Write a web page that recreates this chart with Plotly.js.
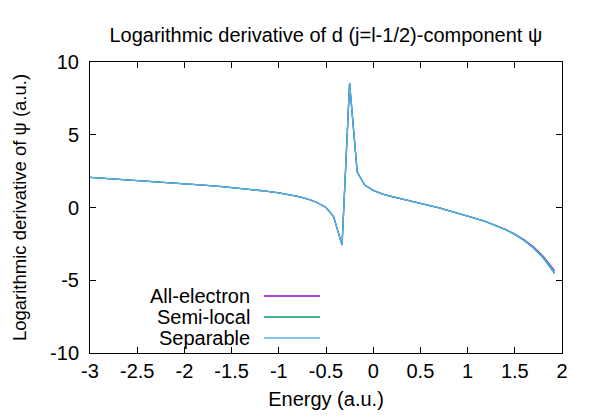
<!DOCTYPE html>
<html>
<head>
<meta charset="utf-8">
<script src="https://cdn.plot.ly/plotly-3.0.1.min.js"></script>
<style>html,body{margin:0;padding:0;background:#fff}#chart{width:600px;height:420px}</style>
</head>
<body>
<div id="chart"></div>
<script>
const energy = [-3, -2.8, -2.6, -2.4, -2.2, -2.0, -1.8, -1.6, -1.4, -1.2, -1.0, -0.9, -0.8, -0.7, -0.6, -0.5, -0.46, -0.42, -0.33, -0.25, -0.17, -0.09, 0, 0.1, 0.2, 0.3, 0.4, 0.5, 0.6, 0.7, 0.8, 0.9, 1.0, 1.1, 1.2, 1.3, 1.4, 1.5, 1.6, 1.7, 1.8, 1.9, 1.92];
const allElectron = [2.07, 1.99, 1.91, 1.83, 1.74, 1.64, 1.54, 1.43, 1.31, 1.17, 1.00, 0.90, 0.76, 0.59, 0.36, 0.00, -0.29, -0.62, -2.58, 8.55, 2.45, 1.55, 1.18, 0.92, 0.74, 0.59, 0.45, 0.30, 0.14, -0.03, -0.21, -0.39, -0.58, -0.78, -0.99, -1.22, -1.50, -1.82, -2.22, -2.72, -3.34, -4.16, -4.36];
const semiLocal = [2.07, 1.99, 1.91, 1.83, 1.74, 1.64, 1.54, 1.43, 1.31, 1.17, 1.00, 0.90, 0.76, 0.59, 0.36, 0.00, -0.29, -0.62, -2.58, 8.55, 2.45, 1.55, 1.18, 0.92, 0.74, 0.59, 0.45, 0.30, 0.14, -0.03, -0.21, -0.39, -0.58, -0.78, -0.99, -1.23, -1.52, -1.86, -2.28, -2.80, -3.46, -4.33, -4.54];
const separable = [2.07, 1.99, 1.91, 1.83, 1.74, 1.64, 1.54, 1.43, 1.31, 1.17, 1.00, 0.90, 0.76, 0.59, 0.36, 0.00, -0.29, -0.62, -2.58, 8.55, 2.45, 1.55, 1.18, 0.92, 0.74, 0.59, 0.45, 0.30, 0.14, -0.03, -0.21, -0.39, -0.58, -0.78, -0.99, -1.23, -1.51, -1.84, -2.25, -2.76, -3.40, -4.25, -4.45];
const seriesNames = ['All-electron', 'Semi-local', 'Separable'];
const seriesColors = ['#9400d3', '#009e73', '#56b4e9'];
const xTicks = [-3, -2.5, -2, -1.5, -1, -0.5, 0, 0.5, 1, 1.5, 2];
const yTicks = [-10, -5, 0, 5, 10];

const font = {family: 'Liberation Sans, Arial, sans-serif', size: 20, color: '#000'};
const ys = [allElectron, semiLocal, separable];
const traces = ys.map((y, i) => ({
  x: energy, y: y, type: 'scatter', mode: 'lines', name: seriesNames[i],
  line: {color: seriesColors[i], width: 1.3}, showlegend: false
}));

// gnuplot-style key: text right-aligned, line sample to its right
const legendRowsY = [296, 317, 338];
const annotations = [];
const shapes = [];
seriesNames.forEach((n, i) => {
  annotations.push({xref: 'paper', yref: 'paper', x: (252 - 90) / 472, y: (353 - legendRowsY[i]) / 291,
    text: n, showarrow: false, xanchor: 'right', yanchor: 'middle', font: font});
  shapes.push({type: 'line', xref: 'paper', yref: 'paper', x0: (264 - 90) / 472, x1: (320 - 90) / 472,
    y0: (353 - legendRowsY[i]) / 291, y1: (353 - legendRowsY[i]) / 291,
    line: {color: seriesColors[i], width: 1.3}});
});

const layout = {
  width: 600, height: 420,
  margin: {l: 90, r: 38, t: 62, b: 67},
  paper_bgcolor: '#fff', plot_bgcolor: '#fff',
  font: font,
  title: {text: 'Logarithmic derivative of d (j=l-1/2)-component ψ', font: font, x: 0.543, xanchor: 'center', y: 0.917, yanchor: 'middle'},
  xaxis: {
    range: [-3, 2], tickvals: xTicks, ticktext: xTicks.map(String),
    ticks: 'inside', ticklen: 6, tickcolor: '#000', tickwidth: 1,
    showline: true, linecolor: '#000', linewidth: 1, mirror: 'allticks',
    showgrid: false, zeroline: false, tickfont: font, ticklabelstandoff: 0,
    title: {text: 'Energy (a.u.)', font: font, standoff: 10}
  },
  yaxis: {
    range: [-10, 10], tickvals: yTicks, ticktext: yTicks.map(String),
    ticks: 'inside', ticklen: 6, tickcolor: '#000', tickwidth: 1,
    showline: true, linecolor: '#000', linewidth: 1, mirror: 'allticks',
    showgrid: false, zeroline: false, tickfont: font, ticklabelstandoff: 6,
    title: {text: 'Logarithmic derivative of ψ (a.u.)', font: {family: font.family, size: 18.5, color: '#000'}, standoff: 18}
  },
  annotations: annotations,
  shapes: shapes
};
Plotly.newPlot('chart', traces, layout, {staticPlot: true, displayModeBar: false});
</script>
</body>
</html>
